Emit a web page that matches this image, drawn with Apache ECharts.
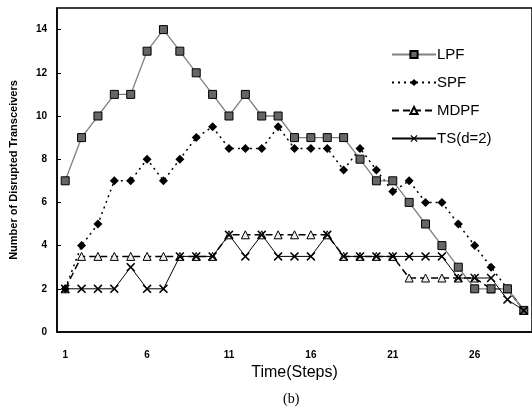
<!DOCTYPE html>
<html>
<head>
<meta charset="utf-8">
<script src="https://cdn.jsdelivr.net/npm/echarts@6/dist/echarts.min.js"></script>
<style>
html,body{margin:0;padding:0;background:#fff;}
#c{width:532px;height:412px;}
</style>
</head>
<body>
<div id="c"></div>
<script>
var steps = [];
for (var i = 1; i <= 29; i++) steps.push(String(i));
var LPF = [7,9,10,11,11,13,14,13,12,11,10,11,10,10,9,9,9,9,8,7,7,6,5,4,3,2,2,2,1];
var SPF = [2,4,5,7,7,8,7,8,9,9.5,8.5,8.5,8.5,9.5,8.5,8.5,8.5,7.5,8.5,7.5,6.5,7,6,6,5,4,3,2,1];
var MDPF = [2,3.5,3.5,3.5,3.5,3.5,3.5,3.5,3.5,3.5,4.5,4.5,4.5,4.5,4.5,4.5,4.5,3.5,3.5,3.5,3.5,2.5,2.5,2.5,2.5,2.5,2,2,1];
var TS = [2,2,2,2,3,2,2,3.5,3.5,3.5,4.5,3.5,4.5,3.5,3.5,3.5,4.5,3.5,3.5,3.5,3.5,3.5,3.5,3.5,2.5,2.5,2.5,1.5,1];
var seriesNames = ['LPF','SPF','MDPF','TS(d=2)'];

var xPath = 'path://M0,1.2L1.2,0L5,3.8L8.8,0L10,1.2L6.2,5L10,8.8L8.8,10L5,6.2L1.2,10L0,8.8L3.8,5Z';
var font = 'Liberation Sans, Arial, sans-serif';

var chart = echarts.init(document.getElementById('c'), null, {renderer:'canvas'});
chart.setOption({
  animation:false,
  backgroundColor:'#fff',
  grid:{left:56, top:8, bottom:80, width:478.5, show:true, borderColor:'#000', borderWidth:1.5, backgroundColor:'transparent'},
  title:{text:'(b)', left:278, top:387, textStyle:{fontFamily:'Liberation Serif, Times New Roman, serif', fontSize:14, fontWeight:'normal', color:'#000'}},
  legend:{
    orient:'vertical', left:386, top:42, itemWidth:44, itemHeight:9, itemGap:13,
    textStyle:{fontFamily:font, fontSize:15, color:'#000', padding:[0,0,0,-4]},
    data:seriesNames
  },
  xAxis:{
    type:'category', data:steps, boundaryGap:true,
    name:'Time(Steps)', nameLocation:'middle', nameGap:32,
    nameTextStyle:{fontFamily:font, fontSize:16, color:'#000'},
    axisLine:{lineStyle:{color:'#000', width:1.5}},
    axisTick:{inside:true, length:4, interval:0, lineStyle:{color:'#000'}},
    axisLabel:{interval:4, margin:18, fontFamily:font, fontSize:10, fontWeight:'bold', color:'#000'},
    splitLine:{show:false}
  },
  yAxis:{
    type:'value', min:0, max:15, interval:2,
    name:'Number of Disrupted Transceivers', nameLocation:'middle', nameGap:38,
    nameTextStyle:{fontFamily:font, fontSize:11, fontWeight:'bold', color:'#000'},
    axisLine:{show:true, lineStyle:{color:'#000', width:1.5}},
    axisTick:{show:true, inside:true, length:4, lineStyle:{color:'#000'}},
    axisLabel:{showMaxLabel:false, margin:10, fontFamily:font, fontSize:10, fontWeight:'bold', color:'#000'},
    splitLine:{show:false}
  },
  series:[
    {name:'LPF', type:'line', data:LPF, symbol:'rect', symbolSize:8,
     lineStyle:{color:'#808080', width:1.3}, itemStyle:{color:'#666', borderColor:'#000', borderWidth:1}, z:4},
    {name:'SPF', type:'line', data:SPF, symbol:'diamond', symbolSize:9,
     lineStyle:{color:'#000', width:1.5, type:[2,4]}, itemStyle:{color:'#000'}, z:3},
    {name:'MDPF', type:'line', data:MDPF, symbol:'triangle', symbolSize:8,
     lineStyle:{color:'#000', width:1.5, type:[7,4]}, itemStyle:{color:'#eee', borderColor:'#000', borderWidth:1}, z:2},
    {name:'TS(d=2)', type:'line', data:TS, symbol:xPath, symbolSize:9,
     lineStyle:{color:'#000', width:1}, itemStyle:{color:'#000'}, z:5}
  ]
});
</script>
</body>
</html>
